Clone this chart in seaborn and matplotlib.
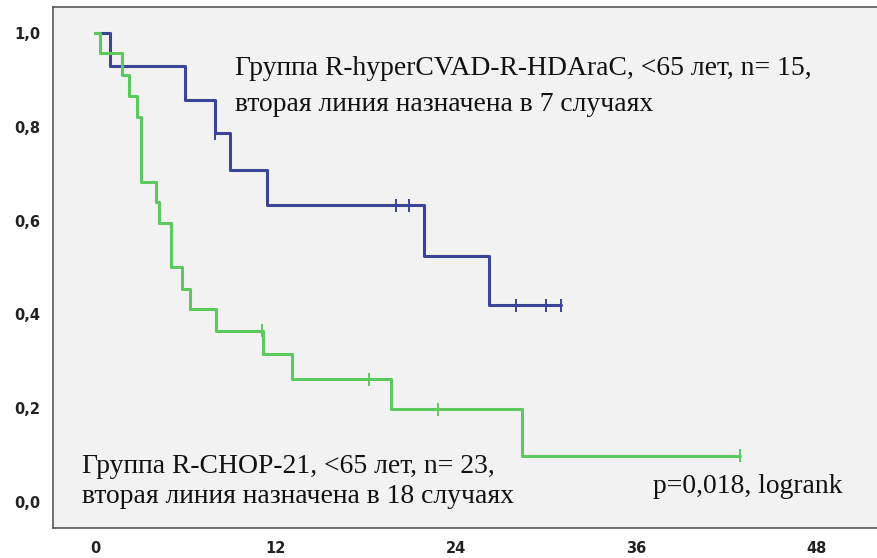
import pandas as pd
import matplotlib
matplotlib.use("Agg")
import matplotlib.pyplot as plt
import seaborn as sns

# Kaplan-Meier steps (months, survival)
hyper_time = [0, 1.0, 6.0, 8.0, 9.0, 11.4, 21.9, 26.2, 31.0]
hyper_surv = [1.0, 0.929, 0.857, 0.786, 0.708, 0.633, 0.525, 0.419, 0.419]
hyper_cens_time = [8.0, 20.0, 20.9, 28.0, 30.0, 31.0]
hyper_cens_surv = [0.786, 0.633, 0.633, 0.419, 0.419, 0.419]

chop_time = [0, 0.3, 1.77, 2.28, 2.77, 3.03, 4.05, 4.26, 5.03, 5.8, 6.3,
             8.04, 11.15, 13.07, 19.66, 28.36, 42.9]
chop_surv = [1.0, 0.957, 0.911, 0.865, 0.822, 0.683, 0.640, 0.594, 0.501,
             0.455, 0.411, 0.365, 0.315, 0.261, 0.197, 0.098, 0.098]
chop_cens_time = [11.1, 18.2, 22.8, 42.9]
chop_cens_surv = [0.365, 0.261, 0.197, 0.098]

x_ticks = [0, 12, 24, 36, 48]
y_ticks = [0.0, 0.2, 0.4, 0.6, 0.8, 1.0]

BLUE = "#3A4597"
GREEN = "#5CC95F"

steps = pd.concat([
    pd.DataFrame({"time": hyper_time, "surv": hyper_surv, "group": "hyper"}),
    pd.DataFrame({"time": chop_time, "surv": chop_surv, "group": "chop"}),
])
cens = pd.concat([
    pd.DataFrame({"time": hyper_cens_time, "surv": hyper_cens_surv, "group": "hyper"}),
    pd.DataFrame({"time": chop_cens_time, "surv": chop_cens_surv, "group": "chop"}),
])
palette = {"hyper": BLUE, "chop": GREEN}

sns.set_theme(style="white")
fig = plt.figure(figsize=(8.77, 5.58), dpi=100)
ax = fig.add_axes([53 / 877, (558 - 527.5) / 558, 1 - 53 / 877, (527.5 - 7) / 558])
ax.set_facecolor("#F2F2F2")

sns.lineplot(data=steps, x="time", y="surv", hue="group", palette=palette,
             estimator=None, sort=False, drawstyle="steps-post",
             linewidth=2.2, legend=False, ax=ax)
sns.scatterplot(data=cens, x="time", y="surv", hue="group", palette=palette,
                marker="|", s=90, linewidth=1.4, legend=False, ax=ax, zorder=3)

ax.set_xlim(-2.8, 52.0)
ax.set_ylim(-0.055, 1.056)
ax.set_xticks(x_ticks)
ax.set_yticks(y_ticks)
ax.set_xticklabels([str(t) for t in x_ticks])
ax.set_yticklabels([f"{t:.1f}".replace(".", ",") for t in y_ticks])
ax.set_xlabel("")
ax.set_ylabel("")

for side in ["left", "top", "bottom"]:
    ax.spines[side].set_color("#4A4A4A")
    ax.spines[side].set_linewidth(1.1)
ax.spines["right"].set_visible(False)

ax.tick_params(axis="both", direction="out", length=7, width=1.1, color="#4A4A4A",
               labelsize=10.5, labelcolor="#222222")
ax.tick_params(axis="y", pad=2)
ax.tick_params(axis="x", pad=3)
for lbl in ax.get_xticklabels() + ax.get_yticklabels():
    lbl.set_fontweight("bold")


def put(text, px, py):
    # px, py: pixel position of the text baseline start, from top-left
    ax.text(px / 877, 1 - py / 558, text, transform=fig.transFigure,
            family="Liberation Serif", fontsize=19.9, color="#111111",
            ha="left", va="baseline")


put("Группа R-hyperCVAD-R-HDAraC, <65 лет, n= 15,", 235, 75)
put("вторая линия назначена в 7 случаях", 235, 111)
put("Группа R-CHOP-21, <65 лет, n= 23,", 82, 473)
put("вторая линия назначена в 18 случаях", 82, 503)
put("p=0,018, logrank", 653, 493)

fig.savefig("out.png", dpi=100)
